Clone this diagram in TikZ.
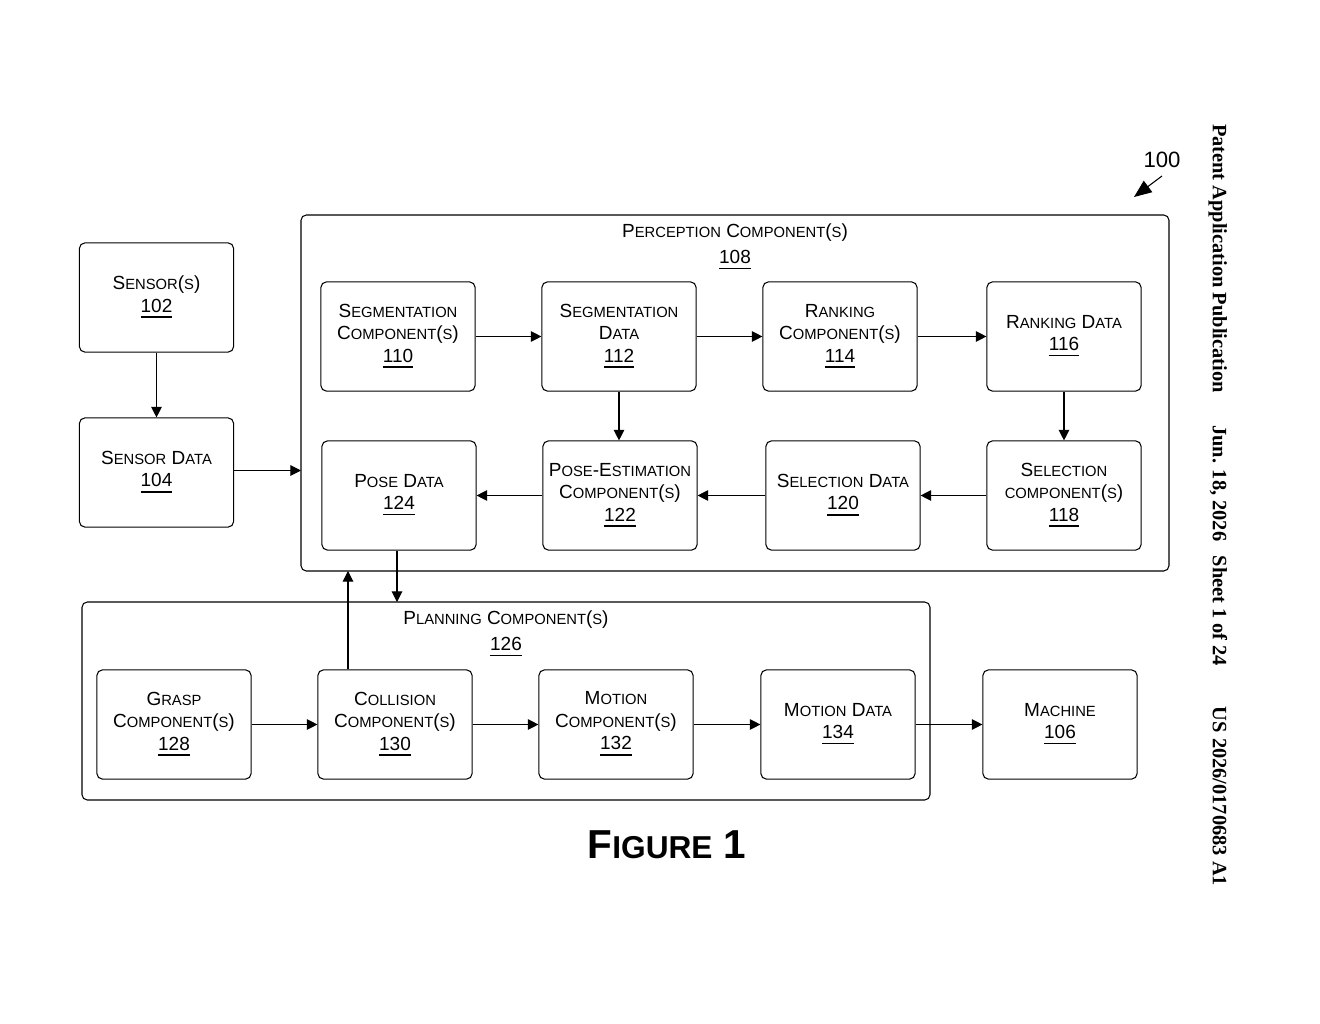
\documentclass[tikz,border=0pt]{standalone}
\usepackage{fontspec}
\setmainfont{Liberation Sans}
\newfontfamily\serifbold{Liberation Serif}
\usetikzlibrary{arrows.meta}
\newcommand\sm[1]{{\fontsize{4.2}{5}\selectfont #1}}
\newcommand\num[1]{\underline{#1}}
\tikzset{
    box/.style = {draw, rounded corners=1.5pt, line width=0.3pt, minimum width=1.54cm, minimum height=1.09cm, align=center, font=\fontsize{5.4}{6.4}\selectfont, inner sep=1pt},
    frame/.style = {draw, rounded corners=1.5pt, line width=0.3pt},
    ttl/.style = {align=center, font=\fontsize{5.4}{6.4}\selectfont, inner sep=0pt},
    arr/.style = {-{Triangle[length=3pt,width=3pt]}, line width=0.3pt}
}
\begin{document}
\begin{tikzpicture}[x=0.01cm,y=-0.01cm]
\useasboundingbox (0,0) rectangle (1320,1024);
% frames
\draw[frame] (301,215) rectangle (1169,571);
\draw[frame] (82,602) rectangle (930,800);
\node[ttl] (perc) at (735,247) {P\sm{ERCEPTION} C\sm{OMPONENT}(\sm{S})\\[1pt]\num{108}};
\node[ttl] (plan) at (506,634) {P\sm{LANNING} C\sm{OMPONENT}(\sm{S})\\[1pt]\num{126}};
% outside boxes
\node[box] (sensor) at (156.5,297.5) {S\sm{ENSOR}(\sm{S})\\\num{102}};
\node[box] (sdata) at (156.5,472.5) {S\sm{ENSOR} D\sm{ATA}\\\num{104}};
\node[box] (machine) at (1060,724.5) {M\sm{ACHINE}\\\num{106}};
% perception row 1
\node[box] (segc) at (398,336.5) {S\sm{EGMENTATION}\\C\sm{OMPONENT}(\sm{S})\\\num{110}};
\node[box] (segd) at (619,336.5) {S\sm{EGMENTATION}\\D\sm{ATA}\\\num{112}};
\node[box] (rankc) at (840,336.5) {R\sm{ANKING}\\C\sm{OMPONENT}(\sm{S})\\\num{114}};
\node[box] (rankd) at (1064,336.5) {R\sm{ANKING} D\sm{ATA}\\\num{116}};
% perception row 2
\node[box] (pose) at (399,495.5) {P\sm{OSE} D\sm{ATA}\\\num{124}};
\node[box] (posec) at (620,495.5) {P\sm{OSE}-E\sm{STIMATION}\\C\sm{OMPONENT}(\sm{S})\\\num{122}};
\node[box] (seld) at (843,495.5) {S\sm{ELECTION} D\sm{ATA}\\\num{120}};
\node[box] (selc) at (1064,495.5) {S\sm{ELECTION}\\\sm{COMPONENT}(\sm{S})\\\num{118}};
% planning row
\node[box] (grasp) at (174,724.5) {G\sm{RASP}\\C\sm{OMPONENT}(\sm{S})\\\num{128}};
\node[box] (coll) at (395,724.5) {C\sm{OLLISION}\\C\sm{OMPONENT}(\sm{S})\\\num{130}};
\node[box] (motc) at (616,724.5) {M\sm{OTION}\\C\sm{OMPONENT}(\sm{S})\\\num{132}};
\node[box] (motd) at (838,724.5) {M\sm{OTION} D\sm{ATA}\\\num{134}};
% connectors
\coordinate (percw) at (301,470.5);
\coordinate (plann) at (397,602);
\coordinate (percs) at (348,571);
\draw[arr] (sensor) -- (sdata);
\draw[arr] (sdata.east |- percw) -- (percw);
\draw[arr] (segc) -- (segd);
\draw[arr] (segd) -- (rankc);
\draw[arr] (rankc) -- (rankd);
\draw[arr] (segd) -- (segd |- posec.north);
\draw[arr] (rankd) -- (selc);
\draw[arr] (selc) -- (seld);
\draw[arr] (seld) -- (posec);
\draw[arr] (posec) -- (pose);
\draw[arr] (pose.south -| plann) -- (plann);
\draw[arr] (coll.north -| percs) -- (percs);
\draw[arr] (grasp) -- (coll);
\draw[arr] (coll) -- (motc);
\draw[arr] (motc) -- (motd);
\draw[arr] (motd) -- (machine);
% reference numeral
\node[ttl, font=\fontsize{6.3}{7}\selectfont] (ref) at (1162,160) {100};
\coordinate (refend) at (1134,197);
\draw[-{Triangle[length=5pt,width=4pt]}, line width=0.3pt] (1162,176) -- (refend);
\node[inner sep=0pt, font=\bfseries\fontsize{11.5}{13}\selectfont] (fig) at (667,845) {F{\fontsize{9}{11}\selectfont IGURE} 1};
\node[inner sep=0pt, rotate=-90, font=\serifbold\bfseries\fontsize{5.8}{7}\selectfont] (hdr) at (1218,505)
  {Patent Application Publication\hspace{1.6em}Jun. 18, 2026\hspace{0.7em}Sheet 1 of 24\hspace{2em}US 2026/0170683 A1};
\end{tikzpicture}
\end{document}
